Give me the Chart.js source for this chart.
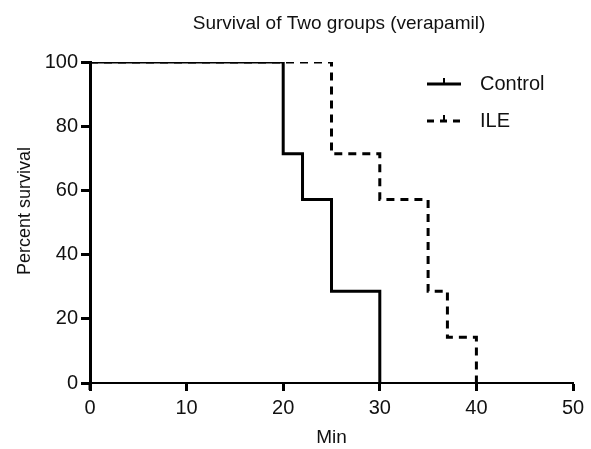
<!DOCTYPE html>
<html><head><meta charset="utf-8">
<script src="https://cdn.jsdelivr.net/npm/chart.js@4"></script>
<style>html,body{margin:0;padding:0;background:#fff}#wrap{width:591px;height:449px}</style>
</head><body><div id="wrap"><canvas id="c" width="591" height="449"></canvas></div>
<script>
const chartTitle = "Survival of Two groups (verapamil)";
const xTitle = "Min";
const yTitle = "Percent survival";
const seriesNames = ["Control", "ILE"];
const controlTimes = [0, 20, 22, 25, 30];
const controlSurvival = [100, 71.43, 57.14, 28.57, 0];
const ileTimes = [0, 25, 30, 35, 37, 40];
const ileSurvival = [100, 71.43, 57.14, 28.57, 14.29, 0];

const FONT = "'Liberation Sans', Arial, sans-serif";
const toXY = (xs, ys) => xs.map((x, i) => ({x: x, y: ys[i]}));

const overlay = {
  id: 'overlay',
  afterDraw(chart) {
    const ctx = chart.ctx;
    const ca = chart.chartArea;
    ctx.save();
    ctx.fillStyle = '#111';
    ctx.font = "19px " + FONT;
    ctx.textAlign = 'center';
    ctx.textBaseline = 'middle';
    ctx.fillText(chartTitle, 339, 24);
    // y axis title
    ctx.save();
    ctx.translate(25, 211);
    ctx.rotate(-Math.PI / 2);
    ctx.font = "18px " + FONT;
    ctx.fillText(yTitle, 0, 0);
    ctx.restore();
    // legend
    const items = [
      {name: seriesNames[0], dash: [], y: 84},
      {name: seriesNames[1], dash: [7, 6], y: 121}
    ];
    ctx.font = "20px " + FONT;
    items.forEach(it => {
      ctx.strokeStyle = '#000';
      ctx.lineWidth = 3;
      ctx.setLineDash(it.dash);
      ctx.beginPath();
      ctx.moveTo(427, it.y);
      ctx.lineTo(461, it.y);
      ctx.stroke();
      ctx.setLineDash([]);
      ctx.lineWidth = 2;
      ctx.beginPath();
      ctx.moveTo(444, it.y);
      ctx.lineTo(444, it.y - 6);
      ctx.stroke();
      ctx.textAlign = 'left';
      ctx.fillText(it.name, 480, it.y);
    });
    // y axis extension below zero
    ctx.strokeStyle = '#000';
    ctx.lineWidth = 3;
    ctx.beginPath();
    ctx.moveTo(ca.left, ca.bottom);
    ctx.lineTo(ca.left, ca.bottom + 7);
    ctx.stroke();
    ctx.restore();
  }
};

new Chart(document.getElementById('c'), {
  type: 'scatter',
  data: {
    datasets: [
      {label: seriesNames[0], data: toXY(controlTimes, controlSurvival), showLine: true, stepped: 'before',
       borderColor: '#000', borderWidth: 3, pointRadius: 0, fill: false},
      {label: seriesNames[1], data: toXY(ileTimes, ileSurvival), showLine: true, stepped: 'before',
       borderColor: '#000', borderWidth: 3, borderDash: [8, 6], pointRadius: 0, fill: false}
    ]
  },
  options: {
    responsive: false,
    animation: false,
    layout: {padding: {left: 0, right: 18, top: 62, bottom: 0}},
    plugins: {legend: {display: false}, title: {display: false}, tooltip: {enabled: false}},
    scales: {
      x: {
        type: 'linear', min: 0, max: 50,
        ticks: {stepSize: 10, color: '#111', font: {family: FONT, size: 20}, padding: 5, maxRotation: 0},
        grid: {drawOnChartArea: false, drawTicks: true, tickLength: 8, tickWidth: 3, color: '#000'},
        border: {display: true, width: 2, color: '#000'},
        title: {display: true, text: xTitle, color: '#111', font: {family: FONT, size: 19}, padding: {top: 0, bottom: 0}},
        afterFit(s) { s.height = 66; }
      },
      y: {
        type: 'linear', min: 0, max: 100,
        ticks: {stepSize: 20, color: '#111', font: {family: FONT, size: 20}, padding: 3},
        grid: {drawOnChartArea: false, drawTicks: true, tickLength: 9, tickWidth: 3, color: '#000'},
        border: {display: true, width: 3, color: '#000'},
        title: {display: false, text: yTitle},
        afterFit(s) { s.width = 90; }
      }
    }
  },
  plugins: [overlay]
});
</script>
</body></html>
